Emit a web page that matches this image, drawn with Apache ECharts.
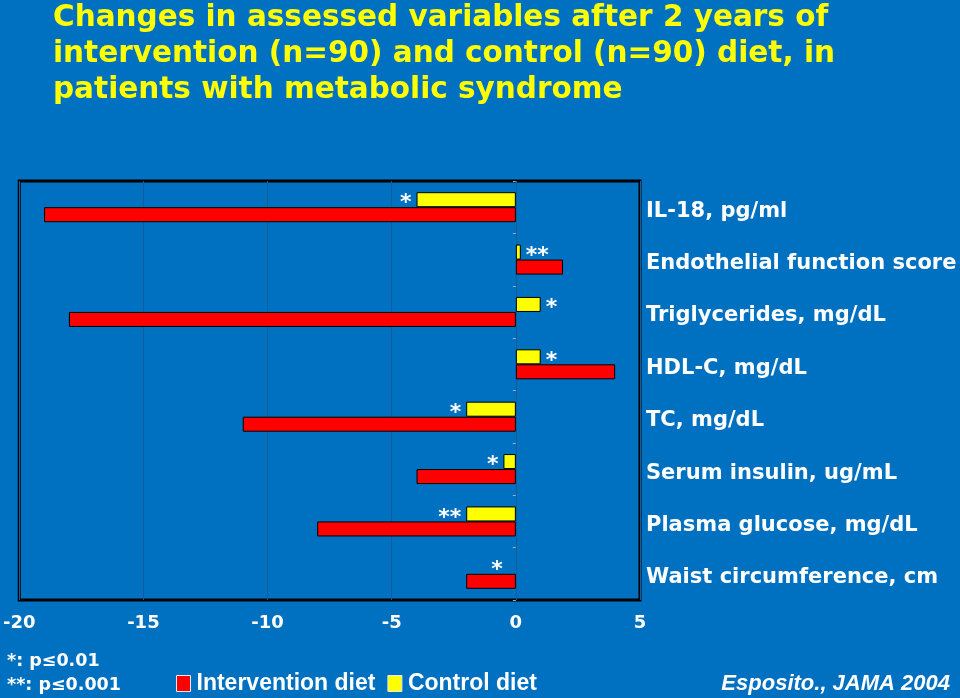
<!DOCTYPE html>
<html>
<head>
<meta charset="utf-8">
<script src="https://cdn.jsdelivr.net/npm/echarts@6/dist/echarts.min.js"></script>
<style>
html,body{margin:0;padding:0;background:#0070C0;}
#c{width:960px;height:698px;}
</style>
</head>
<body>
<div id="c"></div>
<script>
const categories = ['IL-18, pg/ml','Endothelial function score','Triglycerides, mg/dL','HDL-C, mg/dL','TC, mg/dL','Serum insulin, ug/mL','Plasma glucose, mg/dL','Waist circumference, cm'];
const interventionValues = [-19, 1.9, -18, 4, -11, -4, -8, -2];
const controlValues = [-4, 0.2, 1, 1, -2, -0.5, -2, 0];
const significance = ['*','**','*','*','*','*','**','*'];
const xTicks = [-20, -15, -10, -5, 0, 5];

const chart = echarts.init(document.getElementById('c'));
const controlData = controlValues.map((v, i) => ({
  value: v,
  itemStyle: v === 0 ? {borderWidth: 0} : undefined,
  label: {show: true, formatter: significance[i], position: v > 0 ? 'right' : 'left', distance: v === 0 ? 13 : 5}
}));
chart.setOption({
  backgroundColor: '#0070C0',
  animation: false,
  title: {
    text: 'Changes in assessed variables after 2 years of\nintervention (n=90) and control (n=90) diet, in\npatients with metabolic syndrome',
    left: 53, top: 0, padding: 0,
    textStyle: {color: '#FFFF00', fontFamily: 'DejaVu Sans', fontWeight: 'bold', fontSize: 29.5, lineHeight: 36}
  },
  legend: {
    data: ['Intervention diet', 'Control diet'],
    left: 176, top: 672, itemWidth: 14, itemHeight: 16, itemGap: 12, padding: 0,
    icon: 'rect',
    itemStyle: {borderColor: '#e8e8e8', borderWidth: 1},
    textStyle: {color: '#fff', fontFamily: 'Liberation Sans', fontWeight: 'bold', fontSize: 23, padding: [0, 0, 0, 1]}
  },
  grid: {left: 18, right: 320, top: 181, bottom: 98, show: true, borderColor: '#000', borderWidth: 3},
  xAxis: {
    type: 'value', min: xTicks[0], max: xTicks[xTicks.length - 1], interval: 5,
    axisLine: {show: false}, axisTick: {show: false},
    splitLine: {lineStyle: {color: '#125c9a', width: 1}},
    axisLabel: {color: '#fff', fontFamily: 'DejaVu Sans', fontWeight: 'bold', fontSize: 18, margin: 14}
  },
  yAxis: [{
    type: 'category', data: categories, inverse: true, position: 'right',
    axisLine: {show: false, onZero: false}, axisTick: {show: false},
    axisLabel: {
      margin: 6, align: 'left',
      formatter: v => '{a|' + v + '}',
      rich: {a: {color: '#fff', fontFamily: 'DejaVu Sans', fontWeight: 'bold', fontSize: 21, padding: [8, 0, 0, 0]}}
    }
  }, {
    type: 'category', data: categories, inverse: true,
    axisLine: {show: false, onZero: true},
    axisTick: {show: true, length: 3, lineStyle: {color: '#8fb0d0'}},
    axisLabel: {show: false}
  }],
  series: [{
    name: 'Control diet', type: 'bar', data: controlData, barWidth: 15, barGap: '0%',
    itemStyle: {color: '#FFFF00', borderColor: '#000', borderWidth: 1},
    label: {color: '#fff', fontFamily: 'DejaVu Sans', fontWeight: 'bold', fontSize: 22, offset: [0, 4]}
  }, {
    name: 'Intervention diet', type: 'bar', data: interventionValues, barWidth: 15, barGap: '0%',
    itemStyle: {color: '#FF0000', borderColor: '#000', borderWidth: 1}
  }],
  graphic: [
    {type: 'text', left: 7, top: 652, style: {text: '*: p\u22640.01', fill: '#fff', font: 'bold 17.5px "DejaVu Sans"'}},
    {type: 'text', left: 7, top: 676, style: {text: '**: p\u22640.001', fill: '#fff', font: 'bold 17.5px "DejaVu Sans"'}},
    {type: 'text', right: 10, top: 673, style: {text: 'Esposito., JAMA 2004', fill: '#fff', font: 'italic bold 22px "Liberation Sans"'}}
  ]
});
</script>
</body>
</html>
